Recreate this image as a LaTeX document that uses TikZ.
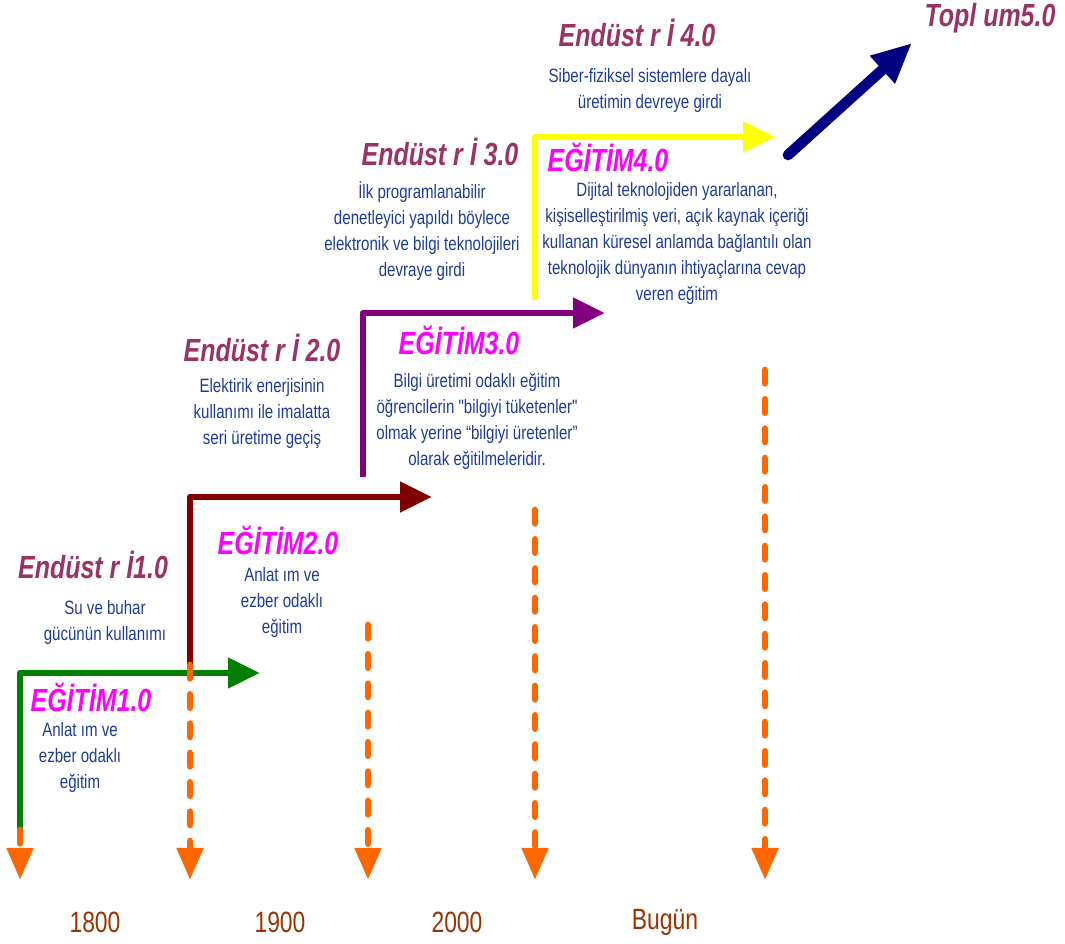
\documentclass[tikz,border=0pt]{standalone}
\usepackage{fontspec}
\setmainfont{Liberation Sans}
\newfontfamily\narrowfont[FakeStretch=0.78]{Liberation Sans}
\usetikzlibrary{arrows.meta}
\definecolor{endcol}{RGB}{153,51,102}
\definecolor{edcol}{RGB}{255,0,255}
\definecolor{bodycol}{RGB}{30,60,150}
\definecolor{yearcol}{RGB}{153,51,0}
\definecolor{greencol}{RGB}{0,128,0}
\definecolor{maroon}{RGB}{128,0,0}
\definecolor{purplecol}{RGB}{128,0,128}
\definecolor{yellowcol}{RGB}{255,255,0}
\definecolor{navycol}{RGB}{0,0,128}
\definecolor{orangecol}{RGB}{255,102,0}

\begin{document}
\begin{tikzpicture}[x=0.75pt,y=-0.75pt,
    endhead/.style={font=\narrowfont\bfseries\itshape\fontsize{24}{27}\selectfont,text=endcol,inner sep=0pt},
    edhead/.style={font=\narrowfont\bfseries\itshape\fontsize{24}{27}\selectfont,text=edcol,inner sep=0pt},
    body/.style={font=\narrowfont\fontsize{14.5}{19.5}\selectfont,text=bodycol,align=center,inner sep=0pt,anchor=north},
    year/.style={font=\narrowfont\fontsize{22}{24}\selectfont,text=yearcol,inner sep=0pt},
    stepline/.style={line width=5pt,line join=round,-{Triangle[length=24pt,width=22pt]}},
    timeline/.style={orangecol,line width=5pt,line cap=round,dash pattern=on 10pt off 12pt,-{Triangle[length=24pt,width=19pt]}}]
    \useasboundingbox (0,0) rectangle (1065,944);

    % corners of the steps
    \coordinate (s1) at (20,838);  \coordinate (t1) at (260,673);
    \coordinate (s2) at (190,665); \coordinate (t2) at (432,497);
    \coordinate (s3) at (363,477); \coordinate (t3) at (605,313);
    \coordinate (s4) at (535,300); \coordinate (t4) at (775,137);
    \coordinate (s5) at (788,155); \coordinate (t5) at (912,43);

    \draw[stepline,greencol]  (s1) |- (t1);
    \draw[stepline,maroon]    (s2) |- (t2);
    \draw[stepline,purplecol] (s3) |- (t3);
    \draw[stepline,yellowcol] (s4) |- (t4);
    \draw[navycol,line width=8pt,line cap=round,-{Triangle[length=30pt,width=26pt]}] (s5) -- (t5);

    % headings
    \node[endhead] (e1) at (93,565)  {Endüst r İ1.0};
    \node[endhead] (e2) at (262,348) {Endüst r İ 2.0};
    \node[endhead] (e3) at (440,152) {Endüst r İ 3.0};
    \node[endhead] (e4) at (637,33)  {Endüst r İ 4.0};
    \node[endhead] (top) at (990,18) {Topl um5.0};

    \node[edhead] (g1) at (91,697)  {EĞİTİM1.0};
    \node[edhead] (g2) at (278,540) {EĞİTİM2.0};
    \node[edhead] (g3) at (459,340) {EĞİTİM3.0};
    \node[edhead] (g4) at (608,157) {EĞİTİM4.0};

    % texts
    \node[body] (d1) at (105,600) {Su ve buhar\\gücünün kullanımı};
    \node[body] (d2) at (262,378) {Elektirik enerjisinin\\kullanımı ile imalatta\\seri üretime geçiş};
    \node[body] (d3) at (422,181) {İlk programlanabilir\\denetleyici yapıldı böylece\\elektronik ve bilgi teknolojileri\\devraye girdi};
    \node[body] (d4) at (650,68)  {Siber-fiziksel sistemlere dayalı\\üretimin devreye girdi};

    \node[body] (b1) at (80,722)  {Anlat ım ve\\ezber odaklı\\eğitim};
    \node[body] (b2) at (282,567) {Anlat ım ve\\ezber odaklı\\eğitim};
    \node[body] (b3) at (477,373) {Bilgi üretimi odaklı eğitim\\öğrencilerin "bilgiyi tüketenler"\\olmak yerine “bilgiyi üretenler”\\olarak eğitilmeleridir.};
    \node[body] (b4) at (677,182) {Dijital teknolojiden yararlanan,\\kişiselleştirilmiş veri, açık kaynak içeriği\\kullanan küresel anlamda bağlantılı olan\\teknolojik dünyanın ihtiyaçlarına cevap\\veren eğitim};

    % timeline
    \coordinate (a1) at (20,830);  \coordinate (z1) at (20,880);
    \coordinate (a2) at (190,665); \coordinate (z2) at (190,880);
    \coordinate (a3) at (368,625); \coordinate (z3) at (368,880);
    \coordinate (a4) at (535,510); \coordinate (z4) at (535,880);
    \coordinate (a5) at (765,370); \coordinate (z5) at (765,880);
    \foreach \i in {1,...,5}
        \draw[timeline] (a\i) -- (z\i);

    \node[year] (y1) at (95,922)  {1800};
    \node[year] (y2) at (280,922) {1900};
    \node[year] (y3) at (457,922) {2000};
    \node[year] (y4) at (665,922) {Bugün};
\end{tikzpicture}
\end{document}
